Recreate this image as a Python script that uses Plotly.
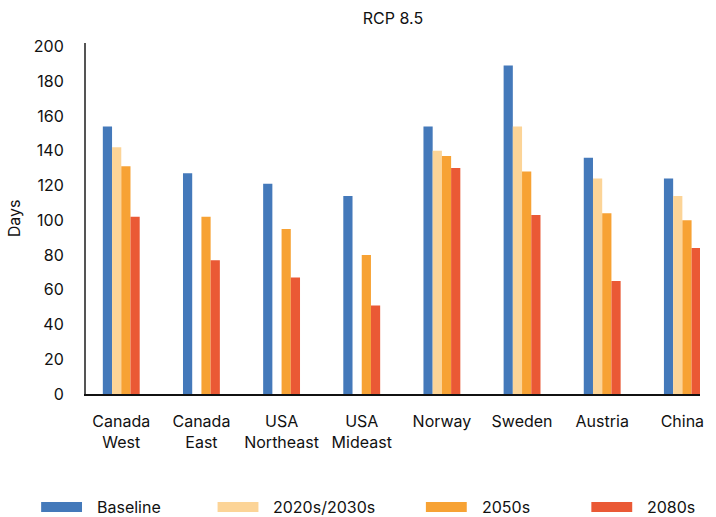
import plotly.graph_objects as go

# Days per year by region and period
regions = ["Canada<br>West", "Canada<br>East", "USA<br>Northeast", "USA<br>Mideast",
           "Norway", "Sweden", "Austria", "China"]
baseline = [154, 127, 121, 114, 154, 189, 136, 124]
p2020s = [142, None, None, None, 140, 154, 124, 114]
p2050s = [131, 102, 95, 80, 137, 128, 104, 100]
p2080s = [102, 77, 67, 51, 130, 103, 65, 84]

series_names = ["Baseline", "2020s/2030s", "2050s", "2080s"]
series_values = [baseline, p2020s, p2050s, p2080s]
colors = ["#4479BA", "#FCD497", "#F7A234", "#EA5935"]

FONT = "Inter, Roboto, sans-serif"

fig = go.Figure()
for name, vals, col in zip(series_names, series_values, colors):
    fig.add_trace(go.Bar(x=regions, y=vals, name=name, marker_color=col,
                         marker_line_width=0, showlegend=False))

W, H = 716, 517
ml, mr, mt, mb = 86, 14, 43, 123
pw, ph = W - ml - mr, H - mt - mb

fig.update_layout(
    width=W, height=H,
    margin=dict(l=ml, r=mr, t=mt, b=mb),
    barmode="group", bargap=0.54, bargroupgap=0,
    plot_bgcolor="white", paper_bgcolor="white",
    font=dict(family=FONT, size=16, color="#111"),
    title=dict(text="RCP 8.5", x=(394 - ml) / pw, xref="paper", xanchor="center",
               y=1 - 18 / H, yanchor="middle", font=dict(size=16, color="#111")),
)
fig.update_xaxes(
    type="category", range=[-0.44, 7.22],
    showline=True, linecolor="#111", linewidth=1.5,
    showgrid=False, ticks="", ticklabelstandoff=12,
    tickfont=dict(size=16),
)
fig.update_yaxes(
    range=[0, 202], tickvals=list(range(0, 201, 20)),
    showline=True, linecolor="#555", linewidth=2,
    showgrid=False, zeroline=False, ticks="", ticklabelstandoff=17,
    tickfont=dict(size=16),
    title=dict(text="Days", font=dict(size=16), standoff=9),
)

# Legend row drawn beneath the plot: wide swatch followed by the label
legend_left = [41, 218, 427, 593]
legend_y = 507
for x0, name, col in zip(legend_left, series_names, colors):
    fig.add_shape(type="rect", xref="paper", yref="paper",
                  x0=(x0 - ml) / pw, x1=(x0 + 41 - ml) / pw,
                  y0=(H - mb - legend_y - 5) / ph, y1=(H - mb - legend_y + 5) / ph,
                  fillcolor=col, line_width=0)
    fig.add_annotation(text=name, xref="paper", yref="paper", showarrow=False,
                       x=(x0 + 54 - ml) / pw, y=(H - mb - legend_y) / ph,
                       xanchor="left", yanchor="middle", font=dict(size=16, color="#111"))

fig.write_html("out.html")
